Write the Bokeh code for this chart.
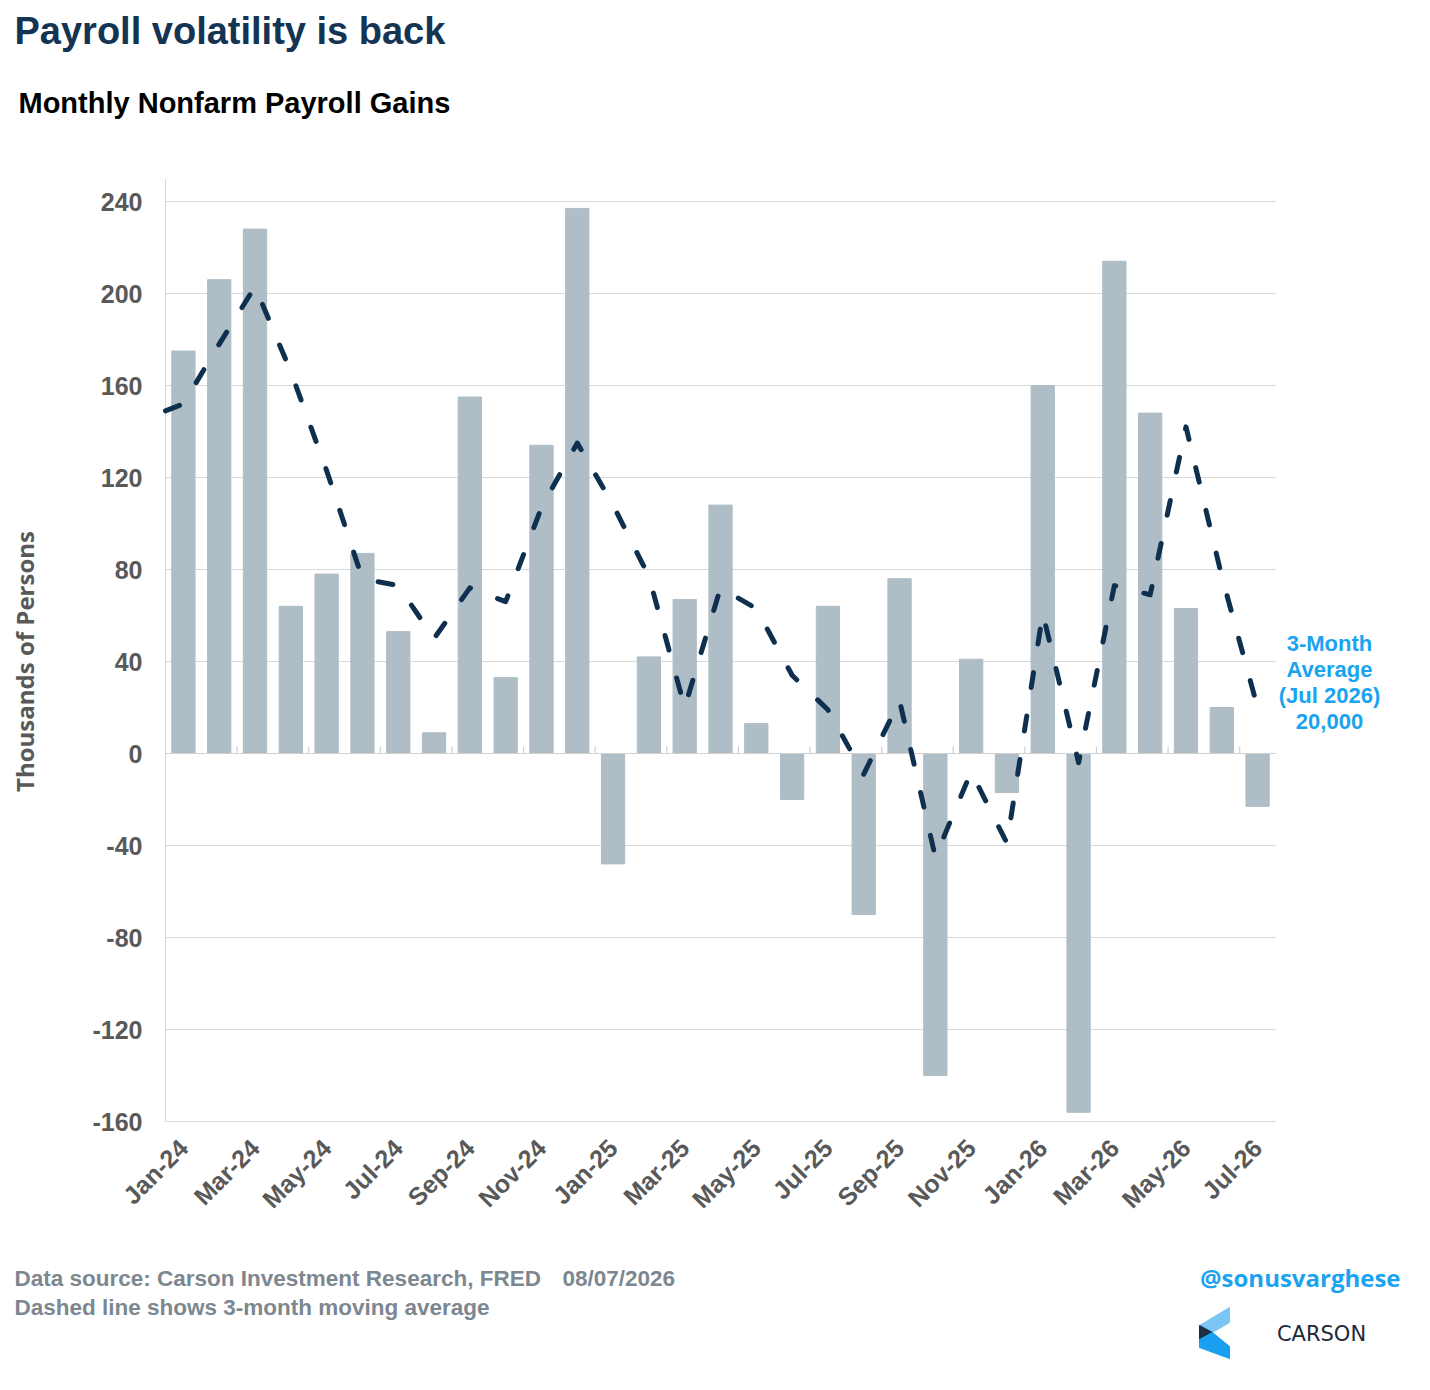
import math
from bokeh.plotting import figure
from bokeh.models import Range1d, FixedTicker, Grid
from bokeh.embed import file_html
from bokeh.resources import INLINE
from bokeh.core.properties import value

# ---------------- data ----------------
months = ["Jan-24", "Feb-24", "Mar-24", "Apr-24", "May-24", "Jun-24", "Jul-24", "Aug-24",
          "Sep-24", "Oct-24", "Nov-24", "Dec-24", "Jan-25", "Feb-25", "Mar-25", "Apr-25",
          "May-25", "Jun-25", "Jul-25", "Aug-25", "Sep-25", "Oct-25", "Nov-25", "Dec-25",
          "Jan-26", "Feb-26", "Mar-26", "Apr-26", "May-26", "Jun-26", "Jul-26"]
payroll = [175, 206, 228, 64, 78, 87, 53, 9, 155, 33, 134, 237, -48, 42, 67, 108,
           13, -20, 64, -70, 76, -140, 41, -17, 160, -156, 214, 148, 63, 20, -23]
# 3-month moving average; first value is where the line enters at the chart's left edge
ma_edge_value = 149
ma_values = [152, 178, 203, 166, 123, 76, 73, 50, 72, 66, 107, 135, 108, 77, 20, 72,
             63, 34, 19, -9, 23, -45, -8, -39, 61, -4, 73, 69, 142, 77, 20]
y_ticks = [-160, -120, -80, -40, 0, 40, 80, 120, 160, 200, 240]
y_tick_labels = ["-160", "-120", "-80", "-40", "0", "40", "80", "120", "160", "200", "240"]
y_min, y_max = -160, 250

title_text = "Payroll volatility is back"
subtitle_text = "Monthly Nonfarm Payroll Gains"
ylabel_text = "Thousands of Persons"
ann_lines = ["3-Month", "Average", "(Jul 2026)", "20,000"]
source_text = "Data source: Carson Investment Research, FRED"
date_text = "08/07/2026"
note_text = "Dashed line shows 3-month moving average"
handle_text = "@sonusvarghese"
brand_text = "CARSON"

# ---------------- style / layout ----------------
W, H = 1422, 1382
FL, FR, FT, FB = 165, 1275, 178, 1121       # chart area in canvas pixels
n = len(months)
SX = (FR - FL) / n                          # px per category
SY = (FB - FT) / (y_max - y_min)            # px per unit


def X(px):
    return -0.5 + (px - FL) / SX


def Y(py):
    return y_max - (py - FT) / SY


BAR = "#afbdc7"
LINE = "#0e2f4d"
GRID = "#d9d9d9"
TICK_TXT = "#595959"
BLUE = "#1aa3f0"
GRAY = "#7d8790"
FONT = "Liberation Sans"

idx = list(range(n))
x_lo, x_hi = idx[0] - 0.5, idx[-1] + 0.5

p = figure(width=W, height=H, x_range=Range1d(X(0), X(W)), y_range=Range1d(Y(H), Y(0)),
           output_backend="svg", toolbar_location=None, min_border=0)
p.outline_line_color = None
p.xgrid.visible = False

# grid
if "cross_bounds" in Grid.properties():
    p.ygrid.ticker = FixedTicker(ticks=y_ticks)
    p.ygrid.bounds = (y_ticks[0], y_ticks[-1])
    p.ygrid.cross_bounds = (x_lo, x_hi)
    p.ygrid.grid_line_color = GRID
else:
    p.ygrid.visible = False
    p.segment(x0=[x_lo] * len(y_ticks), y0=y_ticks, x1=[x_hi] * len(y_ticks), y1=y_ticks,
              line_color=GRID, line_width=1)

# bars
p.vbar(x=idx, top=payroll, width=0.65, color=BAR)
# value-axis line over the full chart height
p.segment(x0=[x_lo], y0=[y_min], x1=[x_lo], y1=[y_max], line_color=GRID, line_width=1)
# zero axis line with small category ticks
p.segment(x0=[x_lo], y0=[0], x1=[x_hi], y1=[0], line_color="#d0d0d0", line_width=1.2)
tick_x = [i + 0.5 for i in idx[1:-1:2]]
p.segment(x0=tick_x, y0=[0] * len(tick_x), x1=tick_x, y1=[3] * len(tick_x),
          line_color="#d0d0d0", line_width=1.2)
# moving average line
p.line(x=[x_lo] + idx, y=[ma_edge_value] + ma_values, line_color=LINE, line_width=5,
       line_dash="15 29", line_cap="round", line_join="round")

# x axis
p.xaxis.fixed_location = y_min
p.xaxis.ticker = FixedTicker(ticks=idx[::2])
p.xaxis.major_label_overrides = {i: months[i] for i in idx[::2]}
p.xaxis.major_label_orientation = math.pi / 4
p.xaxis.axis_line_color = None
p.xaxis.major_tick_line_color = None
p.xaxis.minor_tick_line_color = None
p.xaxis.major_tick_out = 0
p.xaxis.major_label_standoff = 22
p.xaxis.major_label_text_font = FONT
p.xaxis.major_label_text_font_style = "bold"
p.xaxis.major_label_text_font_size = "25px"
p.xaxis.major_label_text_color = TICK_TXT

# y axis
p.yaxis.fixed_location = x_lo
p.yaxis.bounds = (y_ticks[0], y_ticks[-1])
p.yaxis.ticker = FixedTicker(ticks=y_ticks)
p.yaxis.major_label_overrides = dict(zip(y_ticks, y_tick_labels))
p.yaxis.axis_line_color = None
p.yaxis.major_tick_line_color = None
p.yaxis.minor_tick_line_color = None
p.yaxis.major_tick_out = 0
p.yaxis.major_label_standoff = 23
p.yaxis.major_label_text_font = FONT
p.yaxis.major_label_text_font_style = "bold"
p.yaxis.major_label_text_font_size = "25px"
p.yaxis.major_label_text_color = TICK_TXT
p.yaxis.axis_label = ylabel_text
p.yaxis.axis_label_text_font = "Open Sans"
p.yaxis.axis_label_text_font_style = "bold"
p.yaxis.axis_label_text_font_size = "24px"
p.yaxis.axis_label_text_color = TICK_TXT
p.yaxis.axis_label_standoff = 48


def txt(px, py, s, size, color, font=FONT, style="bold", align="left", baseline="middle"):
    p.text(x=[X(px)], y=[Y(py)], text=[s], text_font=value(font), text_font_style=style,
           text_font_size=size, text_color=color, text_align=align, text_baseline=baseline)


# titles
txt(14, 30, title_text, "38px", "#133452")
txt(18, 102, subtitle_text, "29px", "#000000")

# annotation right of the chart
for s, py in zip(ann_lines, [643, 669, 695, 721]):
    txt(1329, py, s, "22px", BLUE, align="center")

# footer
txt(14, 1278, source_text, "22.5px", GRAY)
txt(562, 1278, date_text, "22.5px", GRAY)
txt(14, 1307, note_text, "22.5px", GRAY)
txt(1400, 1277, handle_text, "24px", BLUE, font="Open Sans", align="right")

# logo
logo_x = [[1199, 1229, 1229, 1212], [1199, 1212, 1199], [1199, 1212, 1229, 1229, 1199]]
logo_y = [[1325, 1307, 1322, 1332], [1325, 1332, 1339], [1339, 1332, 1346, 1358, 1347]]
p.patches(xs=[[X(v) for v in a] for a in logo_x], ys=[[Y(v) for v in a] for a in logo_y],
          color=["#7cc6f6", "#1b2e45", "#1a9ff0"])
txt(1321, 1333, brand_text, "21px", "#1c2a3a", font="DejaVu Sans", style="normal",
    align="center")

open("out.html", "w").write(file_html(p, INLINE))
